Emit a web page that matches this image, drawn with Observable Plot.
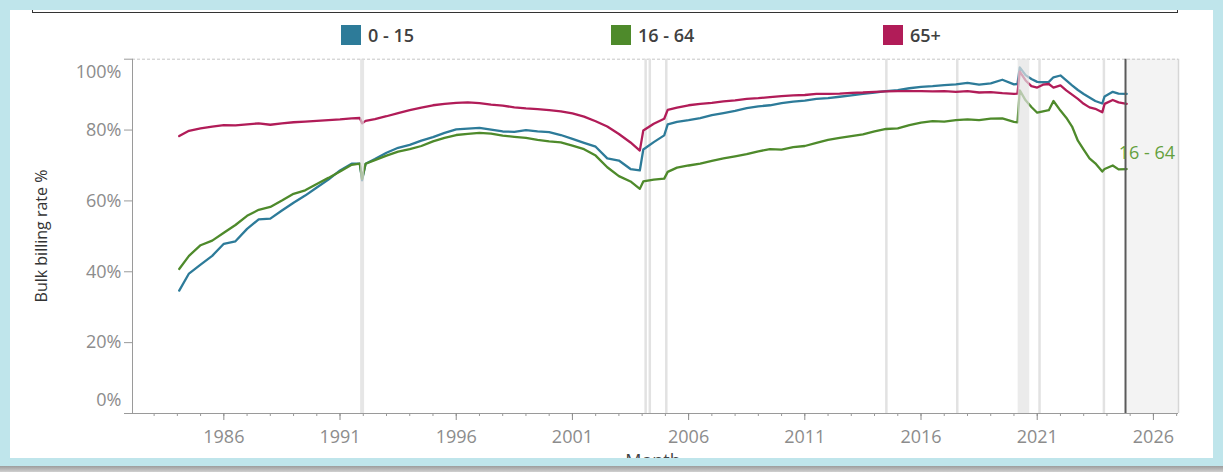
<!DOCTYPE html>
<html>
<head>
<meta charset="utf-8">
<script src="https://cdn.jsdelivr.net/npm/d3@7"></script>
<script src="https://cdn.jsdelivr.net/npm/@observablehq/plot@0.6"></script>
<style>
html,body{margin:0;padding:0;}
body{width:1223px;height:472px;position:relative;overflow:hidden;background:#fff;font-family:"Open Sans",sans-serif;}
#outer{position:absolute;left:0;top:0;width:1223px;height:466px;background:#bfe5eb;}
#shadow{position:absolute;left:0;top:466px;width:1223px;height:6px;background:linear-gradient(#9c9c9c,#d0d0d0);}
#panel{position:absolute;left:10px;top:10px;width:1203px;height:448px;background:#fff;overflow:hidden;}
#chart{position:absolute;left:-10px;top:-10px;width:1223px;height:472px;}
#chart svg{max-width:none !important;width:1223px;height:472px;display:block;}
#topline{position:absolute;left:22px;top:0;width:1144px;height:2px;border:1px solid #333;border-top:none;}
.sw{position:absolute;top:15px;width:20px;height:20px;}
.lt{position:absolute;top:12px;font-size:18px;font-weight:600;color:#404040;line-height:26px;}
</style>
</head>
<body>
<div id="outer"></div>
<div id="shadow"></div>
<div id="panel">
  <div id="chart"></div>
  <div id="topline"></div>
  <div id="legend"></div>
</div>
<script>
// ---- data (decimal year of month, bulk billing rate %) ----
const months = [1984.08,1984.5,1985,1985.5,1986,1986.5,1987,1987.5,1988,1988.5,1989,1989.5,1990,1990.5,1991,1991.5,1991.85,1991.95,1992.1,1992.5,1993,1993.5,1994,1994.5,1995,1995.5,1996,1996.5,1997,1997.5,1998,1998.5,1999,1999.5,2000,2000.5,2001,2001.5,2002,2002.5,2003,2003.5,2003.9,2004.05,2004.5,2004.95,2005.1,2005.5,2006,2006.5,2007,2007.5,2008,2008.5,2009,2009.5,2010,2010.5,2011,2011.5,2012,2012.5,2013,2013.5,2014,2014.5,2015,2015.5,2016,2016.5,2017,2017.5,2018,2018.5,2019,2019.5,2020,2020.15,2020.25,2020.5,2020.75,2021,2021.25,2021.5,2021.7,2022,2022.25,2022.5,2022.75,2023,2023.25,2023.5,2023.8,2023.9,2024.25,2024.5,2024.85];
const age0_15 = [34.7,39.5,42.0,44.5,47.9,48.6,52.1,54.8,55.0,57.3,59.5,61.5,63.8,66.0,68.6,70.5,70.5,65.8,70.5,71.8,73.6,75.0,75.8,77.0,78.0,79.2,80.2,80.4,80.6,80.1,79.6,79.5,80.0,79.6,79.4,78.6,77.5,76.4,75.3,72.0,71.4,69.0,68.6,74.5,76.6,78.5,81.6,82.3,82.8,83.4,84.2,84.8,85.4,86.2,86.7,87.0,87.6,88.0,88.3,88.8,89.0,89.4,89.8,90.2,90.6,91.0,91.3,91.8,92.2,92.4,92.7,92.9,93.3,92.8,93.2,94.2,92.9,93.0,97.7,95.5,94.4,93.6,93.5,93.6,94.9,95.4,94.0,92.6,91.3,90.2,89.2,88.2,87.5,89.5,90.8,90.3,90.2];
const age16_64 = [40.8,44.5,47.5,48.8,51.0,53.2,55.8,57.5,58.3,60.1,62.0,63.0,64.8,66.5,68.3,70.2,70.5,66.2,70.5,71.5,72.8,73.9,74.6,75.5,76.8,77.8,78.6,78.9,79.2,79.0,78.4,78.1,77.8,77.2,76.8,76.5,75.6,74.6,72.8,69.5,67.0,65.5,63.4,65.5,66.0,66.3,68.2,69.4,70.0,70.5,71.3,72.0,72.6,73.2,74.0,74.6,74.5,75.2,75.5,76.4,77.2,77.8,78.3,78.8,79.6,80.3,80.5,81.4,82.1,82.5,82.4,82.8,83.0,82.8,83.2,83.3,82.3,82.2,91.2,88.4,86.5,84.9,85.3,85.6,88.2,85.5,83.5,81.0,77.0,74.5,72.0,70.6,68.3,69.0,70.0,68.9,69.0];
const age65 = [78.3,79.8,80.5,81.0,81.4,81.3,81.6,81.9,81.5,81.9,82.2,82.4,82.6,82.8,83.0,83.3,83.4,81.9,82.6,83.1,83.9,84.8,85.6,86.3,87.0,87.4,87.7,87.8,87.6,87.2,86.9,86.4,86.1,85.9,85.6,85.3,84.7,83.8,82.5,81.0,78.9,76.5,74.2,79.9,81.8,83.2,85.7,86.3,87.0,87.4,87.7,88.1,88.4,88.8,89.0,89.3,89.6,89.8,89.9,90.2,90.2,90.3,90.5,90.6,90.8,90.9,91.0,91.0,91.0,90.9,91.0,90.8,91.0,90.6,90.7,90.4,90.2,90.3,96.5,94.0,92.4,92.0,92.8,93.0,92.0,92.6,91.2,90.0,88.8,87.4,86.4,86.0,85.0,87.4,88.5,87.8,87.4];

const seriesNames = ["0 - 15", "16 - 64", "65+"];
const seriesColors = ["#2d7b99", "#4e8a2b", "#b11c58"];
const xDomain = [1982.07, 2027.08];
const xMajorTicks = [1986, 1991, 1996, 2001, 2006, 2011, 2016, 2021, 2026];
const xMinorTicks = d3.range(1983, 2028);
const yTicks = [0, 20, 40, 60, 80, 100];
const refLines = [2004.15, 2004.33, 2005.04, 2014.51, 2017.56, 2021.10, 2023.87];
const refLine1992 = [1991.95];
const covidBand = [{start: 2020.18, end: 2020.68}];
const lastActual = [2024.8];
const futureRegion = [{start: 2024.8, end: 2027.08}];

// ---- build long table ----
const valueArrays = [age0_15, age16_64, age65];
const rows = [];
valueArrays.forEach((arr, i) => {
  arr.forEach((v, j) => rows.push({t: months[j], v, series: seriesNames[i]}));
});
const lastGreen = {t: months[months.length - 1], v: age16_64[age16_64.length - 1]};

const grey = "#8c8c8c";
const chart = Plot.plot({
  width: 1223,
  height: 472,
  marginLeft: 132,
  marginRight: 45,
  marginTop: 58.7,
  marginBottom: 59,
  x: {type: "linear", domain: xDomain, label: null},
  y: {domain: [0, 100], label: null},
  color: {domain: seriesNames, range: seriesColors},
  style: {fontFamily: "'Open Sans', sans-serif", fontSize: "18px", background: "transparent", color: grey, overflow: "visible", maxWidth: "none"},
  marks: [
    Plot.rect(futureRegion, {x1: "start", x2: "end", y1: 0, y2: 100, fill: "#f3f3f3"}),
    Plot.ruleX([xDomain[1]], {stroke: "#d6d6d6", strokeWidth: 1.5}),
    Plot.ruleY([100], {stroke: "#c6c6c6", strokeDasharray: "3,2"}),
    Plot.ruleX(refLines, {stroke: "#e2e2e2", strokeWidth: 2.5}),
    Plot.line(rows, {x: "t", y: "v", z: "series", stroke: "series", strokeWidth: 2.3, strokeLinejoin: "round"}),
    Plot.ruleX(refLine1992, {stroke: "#dcdcdc", strokeWidth: 4, strokeOpacity: 0.7}),
    Plot.rect(covidBand, {x1: "start", x2: "end", y1: 0, y2: 100, fill: "#e3e3e3", fillOpacity: 0.7}),
    Plot.ruleX(lastActual, {stroke: "#5a5a5a", strokeWidth: 2}),
    Plot.ruleY([0], {stroke: "#9a9a9a"}),
    Plot.ruleX([xDomain[0]], {stroke: "#9a9a9a"}),
    Plot.axisX({ticks: xMinorTicks, tickSize: 3, tickFormat: () => "", color: "#9a9a9a"}),
    Plot.axisX({ticks: xMajorTicks, tickSize: 7, tickPadding: 10, tickFormat: d => String(d), color: grey, fontSize: 18}),
    Plot.axisY({ticks: yTicks, tickSize: 8, tickFormat: () => "", color: "#9a9a9a"}),
    Plot.text(yTicks.filter(d => d > 0 && d < 100), {y: d => d, text: d => d + "%", frameAnchor: "left", dx: -11, textAnchor: "end", fill: grey, fontSize: 18}),
    Plot.text(yTicks.filter(d => d === 0), {y: d => d, text: d => d + "%", frameAnchor: "left", dx: -11, dy: -13, textAnchor: "end", fill: grey, fontSize: 18}),
    Plot.text(yTicks.filter(d => d === 100), {y: d => d, text: d => d + "%", frameAnchor: "left", dx: -11, dy: 13, textAnchor: "end", fill: grey, fontSize: 18}),
    Plot.text([lastGreen], {x: "t", y: "v", text: () => "16 - 64", dx: -8, dy: -16, textAnchor: "start", fill: "#64a03e", fontSize: 18})
  ]
});

const svg = d3.select(chart);
svg.append("text")
  .attr("transform", "translate(47,236) rotate(-90)")
  .attr("text-anchor", "middle")
  .attr("fill", "#333")
  .attr("font-size", 16)
  .text("Bulk billing rate %");
svg.append("text")
  .attr("x", 653).attr("y", 467)
  .attr("text-anchor", "middle")
  .attr("fill", "#444")
  .attr("font-size", 18)
  .text("Month");
document.getElementById("chart").appendChild(chart);

// ---- legend ----
const legendLeft = [331, 601, 873];
const legend = document.getElementById("legend");
seriesNames.forEach((name, i) => {
  const sw = document.createElement("div");
  sw.className = "sw";
  sw.style.left = legendLeft[i] + "px";
  sw.style.background = seriesColors[i];
  legend.appendChild(sw);
  const lt = document.createElement("div");
  lt.className = "lt";
  lt.style.left = (legendLeft[i] + 27) + "px";
  lt.textContent = name;
  legend.appendChild(lt);
});
</script>
</body>
</html>
